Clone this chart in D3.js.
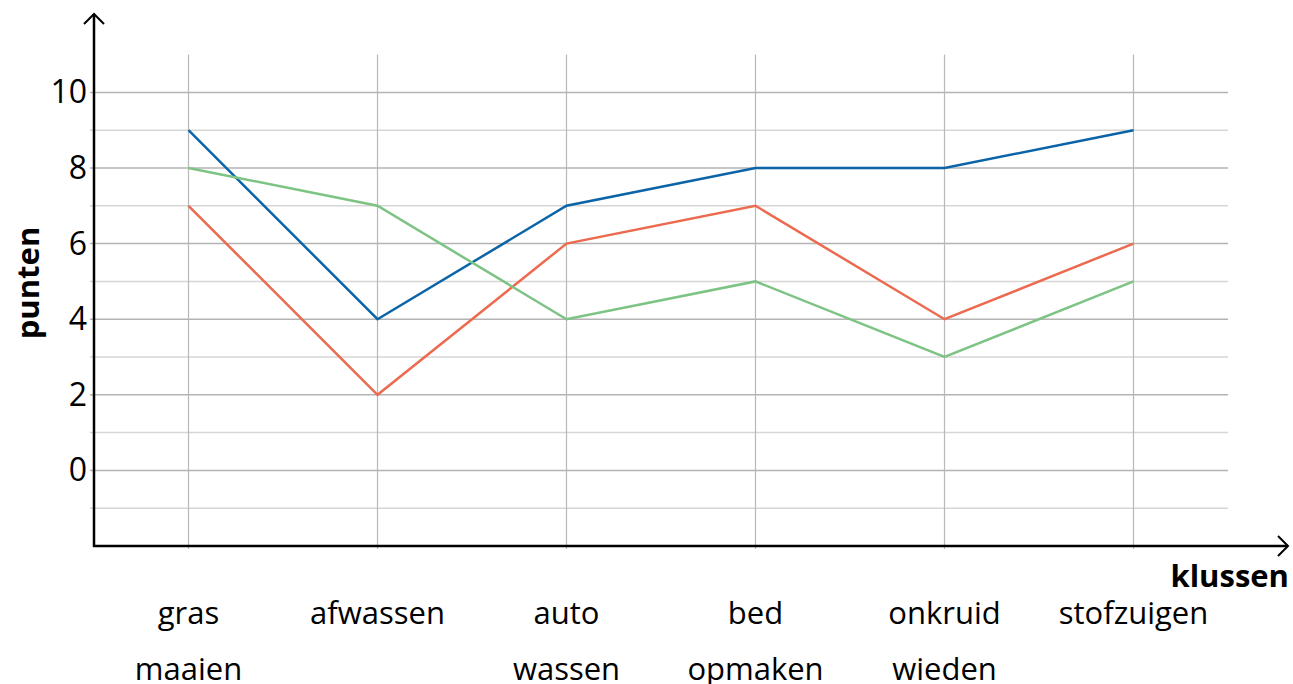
<!DOCTYPE html>
<html>
<head>
<meta charset="utf-8">
<script src="https://cdn.jsdelivr.net/npm/d3@7"></script>
<style>
  body { margin: 0; background: #fff; }
  svg text { font-family: "Open Sans", "Noto Sans", sans-serif; }
</style>
</head>
<body>
<div id="wrapper"></div>
<script>
// Data
const klussen = [["gras", "maaien"], ["afwassen"], ["auto", "wassen"], ["bed", "opmaken"], ["onkruid", "wieden"], ["stofzuigen"]]
const blauw = [9, 4, 7, 8, 8, 9]
const rood = [7, 2, 6, 7, 4, 6]
const groen = [8, 7, 4, 5, 3, 5]
const yTicks = [0, 2, 4, 6, 8, 10]

const series = [
  { values: blauw, color: "#0b64a8" },
  { values: rood, color: "#ec6a4f" },
  { values: groen, color: "#7dc383" }
]

// Afmetingen
const dimensions = {
  width: 1293,
  height: 684,
  left: 94,
  right: 1228,
  top: 54,
  bottom: 546
}

const svg = d3.select("#wrapper")
  .append("svg")
  .attr("width", dimensions.width)
  .attr("height", dimensions.height)

// Skaalaimet
const xScale = d3.scalePoint()
  .domain(d3.range(klussen.length))
  .range([dimensions.left, dimensions.right])
  .padding(0.5)

const yScale = d3.scaleLinear()
  .domain([-2, 11])
  .range([dimensions.bottom, dimensions.top + 0.6])

// Ruudukko
const gridVals = d3.range(-1, 11)
svg.append("g")
  .selectAll("line")
  .data(gridVals)
  .enter()
  .append("line")
  .attr("x1", dimensions.left - 4)
  .attr("x2", dimensions.right)
  .attr("y1", d => yScale(d))
  .attr("y2", d => yScale(d))
  .attr("stroke", d => d % 2 === 0 ? "#b3b3b3" : "#d6d6d6")
  .attr("stroke-width", 1.5)

svg.append("g")
  .selectAll("line")
  .data(d3.range(klussen.length))
  .enter()
  .append("line")
  .attr("x1", d => xScale(d))
  .attr("x2", d => xScale(d))
  .attr("y1", yScale(11))
  .attr("y2", dimensions.bottom + 3)
  .attr("stroke", "#b8b8b8")
  .attr("stroke-width", 1.2)

// Viivat
const lineGenerator = d3.line()
  .x((d, i) => xScale(i))
  .y(d => yScale(d))

svg.append("g")
  .selectAll("path")
  .data(series)
  .enter()
  .append("path")
  .attr("d", d => lineGenerator(d.values))
  .attr("fill", "none")
  .attr("stroke", d => d.color)
  .attr("stroke-width", 2.5)

// Akselit
svg.append("line")
  .attr("x1", dimensions.left)
  .attr("x2", dimensions.left)
  .attr("y1", dimensions.bottom + 1)
  .attr("y2", 14)
  .attr("stroke", "black")
  .attr("stroke-width", 2.5)

svg.append("path")
  .attr("d", `M${dimensions.left - 10},${24} L${dimensions.left},${14} L${dimensions.left + 10},${24}`)
  .attr("fill", "none")
  .attr("stroke", "black")
  .attr("stroke-width", 2)

svg.append("line")
  .attr("x1", dimensions.left - 1)
  .attr("x2", 1288)
  .attr("y1", dimensions.bottom)
  .attr("y2", dimensions.bottom)
  .attr("stroke", "black")
  .attr("stroke-width", 2.5)

svg.append("path")
  .attr("d", `M1278,${dimensions.bottom - 10} L1288,${dimensions.bottom} L1278,${dimensions.bottom + 10}`)
  .attr("fill", "none")
  .attr("stroke", "black")
  .attr("stroke-width", 2)

// Y-akselin luvut
svg.append("g")
  .selectAll("text")
  .data(yTicks)
  .enter()
  .append("text")
  .attr("x", 87)
  .attr("y", d => yScale(d) + 11)
  .attr("text-anchor", "end")
  .attr("font-size", "32px")
  .attr("fill", "black")
  .text(d => d)

// Kategoriat
const catLabels = svg.append("g")
  .selectAll("text")
  .data(klussen)
  .enter()
  .append("text")
  .attr("text-anchor", "middle")
  .attr("font-size", "31px")
  .attr("fill", "black")

catLabels.selectAll("tspan")
  .data((d, i) => d.map(t => ({ t, i })))
  .enter()
  .append("tspan")
  .attr("x", d => xScale(d.i))
  .attr("y", (d, j) => 624 + j * 56)
  .text(d => d.t)

// Akselien nimet
svg.append("text")
  .attr("x", 1289)
  .attr("y", 587)
  .attr("text-anchor", "end")
  .attr("font-size", "31px")
  .attr("font-weight", "bold")
  .text("klussen")

svg.append("text")
  .attr("transform", "translate(39, 283) rotate(-90)")
  .attr("text-anchor", "middle")
  .attr("font-size", "31px")
  .attr("font-weight", "bold")
  .text("punten")
</script>
</body>
</html>
